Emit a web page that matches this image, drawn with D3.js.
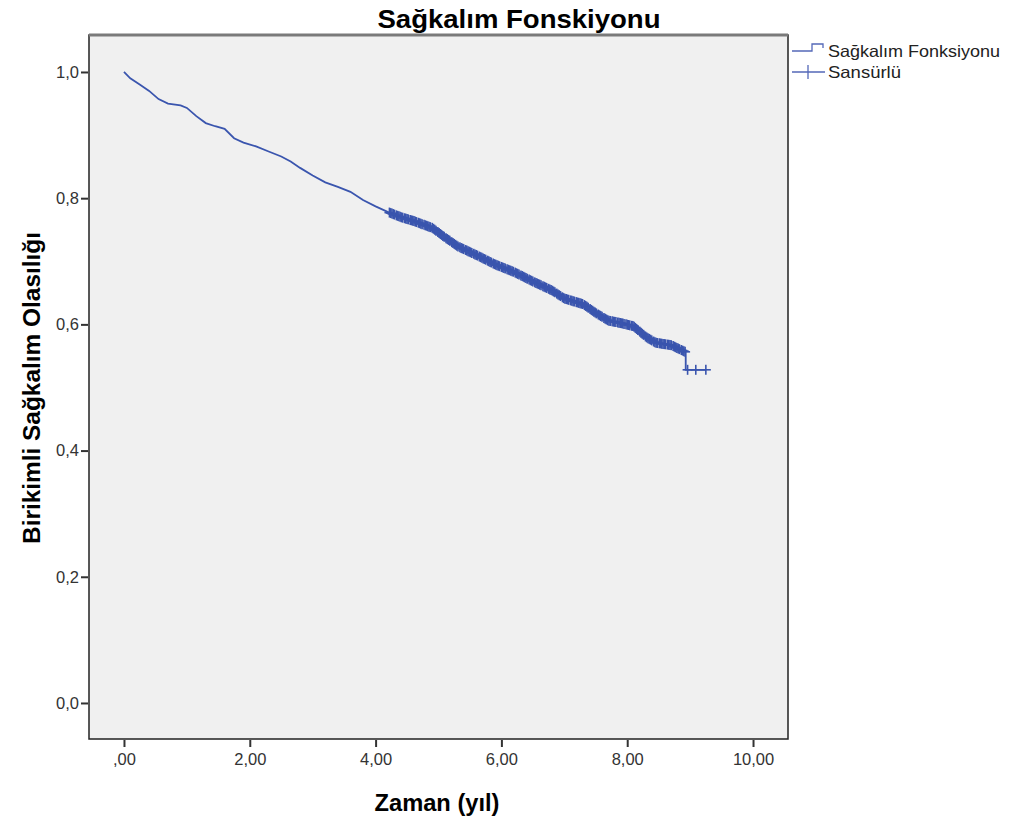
<!DOCTYPE html>
<meta charset="utf-8">
<head>
<style>
  body { margin: 0; background: #fff; font-family: "Liberation Sans", Arial, sans-serif; }
  .tick text { font: 16.5px "Liberation Sans", Arial, sans-serif; fill: #333; }
  .tick line { stroke: #333; stroke-width: 2; }
</style>
</head>
<body>
<script src="https://d3js.org/d3.v7.min.js"></script>
<div id="chart"></div>
<script>
// survival curve (time in years, cumulative survival)
var survTimes = [0, 0.1, 0.25, 0.4, 0.55, 0.7, 0.9, 1.0, 1.15, 1.3, 1.45, 1.6, 1.75, 1.9, 2.1, 2.3, 2.5, 2.65,
  2.8, 3.0, 3.2, 3.4, 3.6, 3.8, 4.0, 4.2, 4.4, 4.6, 4.9, 5.1, 5.3, 5.6, 5.9, 6.2, 6.5, 6.8, 7.0, 7.3, 7.5,
  7.7, 7.9, 8.1, 8.3, 8.45, 8.7, 8.93, 8.93, 9.25];
var survValues = [1.0, 0.99, 0.98, 0.97, 0.957, 0.95, 0.947, 0.943, 0.93, 0.919, 0.914, 0.91, 0.895, 0.888,
  0.882, 0.874, 0.866, 0.858, 0.848, 0.836, 0.825, 0.818, 0.81, 0.797, 0.787, 0.778, 0.77, 0.764, 0.753,
  0.738, 0.724, 0.71, 0.695, 0.683, 0.668, 0.654, 0.641, 0.632, 0.618, 0.606, 0.602, 0.597, 0.58, 0.571,
  0.567, 0.556, 0.528, 0.528];

// censored cases (time in years)
var censorTimes = [4.22, 4.24, 4.26, 4.28, 4.30, 4.33, 4.35, 4.37, 4.39, 4.41, 4.43, 4.46, 4.48, 4.50, 4.52,
  4.55, 4.57, 4.59, 4.61, 4.63, 4.65, 4.68, 4.70, 4.72, 4.74, 4.77, 4.79, 4.81, 4.83, 4.85, 4.87, 4.90,
  4.92, 4.94, 4.96, 4.99, 5.01, 5.03, 5.05, 5.07, 5.09, 5.12, 5.14, 5.16, 5.18, 5.21, 5.23, 5.25, 5.27,
  5.29, 5.31, 5.34, 5.36, 5.38, 5.40, 5.43, 5.45, 5.47, 5.49, 5.51, 5.53, 5.56, 5.58, 5.60, 5.62, 5.65,
  5.67, 5.69, 5.71, 5.73, 5.75, 5.78, 5.80, 5.82, 5.84, 5.87, 5.89, 5.91, 5.93, 5.95, 5.97, 6.00, 6.02,
  6.04, 6.06, 6.09, 6.11, 6.13, 6.15, 6.17, 6.19, 6.22, 6.24, 6.26, 6.28, 6.31, 6.33, 6.35, 6.37, 6.39,
  6.41, 6.44, 6.46, 6.48, 6.50, 6.53, 6.55, 6.57, 6.59, 6.61, 6.63, 6.66, 6.68, 6.70, 6.72, 6.75, 6.77,
  6.79, 6.81, 6.83, 6.85, 6.88, 6.90, 6.92, 6.94, 6.97, 6.99, 7.01, 7.03, 7.05, 7.07, 7.10, 7.12, 7.14,
  7.16, 7.19, 7.21, 7.23, 7.25, 7.27, 7.29, 7.32, 7.34, 7.36, 7.38, 7.41, 7.43, 7.45, 7.47, 7.49, 7.51,
  7.54, 7.56, 7.58, 7.60, 7.63, 7.65, 7.67, 7.69, 7.71, 7.73, 7.76, 7.78, 7.80, 7.82, 7.85, 7.87, 7.89,
  7.91, 7.93, 7.95, 7.98, 8.00, 8.02, 8.04, 8.07, 8.09, 8.11, 8.13, 8.15, 8.17, 8.20, 8.22, 8.24, 8.26,
  8.29, 8.31, 8.33, 8.35, 8.37, 8.39, 8.42, 8.44, 8.46, 8.48, 8.51, 8.53, 8.55, 8.57, 8.59, 8.61, 8.64,
  8.66, 8.68, 8.70, 8.73, 8.75, 8.77, 8.79, 8.81, 8.83, 8.86, 8.88, 8.90, 8.92, 8.96, 9.09, 9.25];

var xTicks = [0, 2, 4, 6, 8, 10];
var yTicks = [0, 0.2, 0.4, 0.6, 0.8, 1.0];
var legendLabels = ["Sağkalım Fonksiyonu", "Sansürlü"];

var W = 1009, H = 820;
var plot = { left: 89, top: 35, right: 788, bottom: 739 };
var blue = "#3a55ae";

var svg = d3.select("#chart").append("svg")
  .attr("width", W).attr("height", H);

var x = d3.scaleLinear().domain([-0.556, 10.556]).range([plot.left, plot.right]);
var y = d3.scaleLinear().domain([-0.0571, 1.0586]).range([plot.bottom, plot.top]);

// plot background + frame
svg.append("rect")
  .attr("x", plot.left).attr("y", plot.top)
  .attr("width", plot.right - plot.left).attr("height", plot.bottom - plot.top)
  .attr("fill", "#f0f0f0").attr("stroke", "#222").attr("stroke-width", 1.5);
svg.append("line")
  .attr("x1", plot.left).attr("x2", plot.right)
  .attr("y1", plot.top).attr("y2", plot.top)
  .attr("stroke", "#7a7a7a").attr("stroke-width", 3);

// axes
var fmtX = function (d) { return d === 0 ? ",00" : d3.format(".2f")(d).replace(".", ","); };
var fmtY = function (d) { return d3.format(".1f")(d).replace(".", ","); };

svg.append("g")
  .attr("transform", "translate(0," + (plot.bottom + 1) + ")")
  .call(d3.axisBottom(x).tickValues(xTicks).tickFormat(fmtX).tickSize(7).tickPadding(6))
  .call(function (g) { g.select(".domain").remove(); });

svg.append("g")
  .attr("transform", "translate(" + (plot.left - 1) + ",0)")
  .call(d3.axisLeft(y).tickValues(yTicks).tickFormat(fmtY).tickSize(7).tickPadding(2))
  .call(function (g) { g.select(".domain").remove(); });

// survival curve
var pts = survTimes.map(function (t, i) { return [t, survValues[i]]; });
svg.append("path")
  .datum(pts)
  .attr("fill", "none")
  .attr("stroke", blue)
  .attr("stroke-width", 1.8)
  .attr("d", d3.line().x(function (d) { return x(d[0]); }).y(function (d) { return y(d[1]); }));

// survival at time t (censor marks sit on the curve)
function survAt(t) {
  var s = survValues[0];
  for (var i = 1; i < survTimes.length; i++) {
    if (t >= survTimes[i]) { s = survValues[i]; continue; }
    var t0 = survTimes[i - 1], t1 = survTimes[i];
    if (t1 === t0) return survValues[i];
    return survValues[i - 1] + (survValues[i] - survValues[i - 1]) * (t - t0) / (t1 - t0);
  }
  return s;
}

var marks = svg.append("g").attr("stroke", blue).attr("stroke-width", 1.6);
censorTimes.forEach(function (t) {
  var cx = x(t), cy = y(survAt(t));
  marks.append("line").attr("x1", cx).attr("x2", cx).attr("y1", cy - 5).attr("y2", cy + 5);
  marks.append("line").attr("x1", cx - 5).attr("x2", cx + 5).attr("y1", cy).attr("y2", cy);
});

// title and axis labels
svg.append("text")
  .attr("x", 519).attr("y", 28)
  .attr("text-anchor", "middle")
  .attr("textLength", 283).attr("lengthAdjust", "spacingAndGlyphs")
  .style("font", "bold 25px 'Liberation Sans', Arial, sans-serif")
  .text("Sağkalım Fonskiyonu");

svg.append("text")
  .attr("x", 437).attr("y", 811)
  .attr("text-anchor", "middle")
  .attr("textLength", 125).attr("lengthAdjust", "spacingAndGlyphs")
  .style("font", "bold 23.5px 'Liberation Sans', Arial, sans-serif")
  .text("Zaman (yıl)");

svg.append("text")
  .attr("transform", "translate(40,388) rotate(-90)")
  .attr("text-anchor", "middle")
  .attr("textLength", 312).attr("lengthAdjust", "spacingAndGlyphs")
  .style("font", "bold 24px 'Liberation Sans', Arial, sans-serif")
  .text("Birikimli Sağkalım Olasılığı");

// legend
var lg = svg.append("g").attr("stroke", "#5468b8").attr("fill", "none").attr("stroke-width", 1.3);
lg.append("path").attr("d", "M792,51H812V44H823V48");
lg.append("path").attr("d", "M792,72H825M808,65V79");
legendLabels.forEach(function (s, i) {
  svg.append("text")
    .attr("x", 828).attr("y", 57 + i * 21)
    .attr("textLength", i === 0 ? 172 : 73).attr("lengthAdjust", "spacingAndGlyphs")
    .style("font", "16.5px 'Liberation Sans', Arial, sans-serif")
    .attr("fill", "#222")
    .text(s);
});
</script>
</body>
